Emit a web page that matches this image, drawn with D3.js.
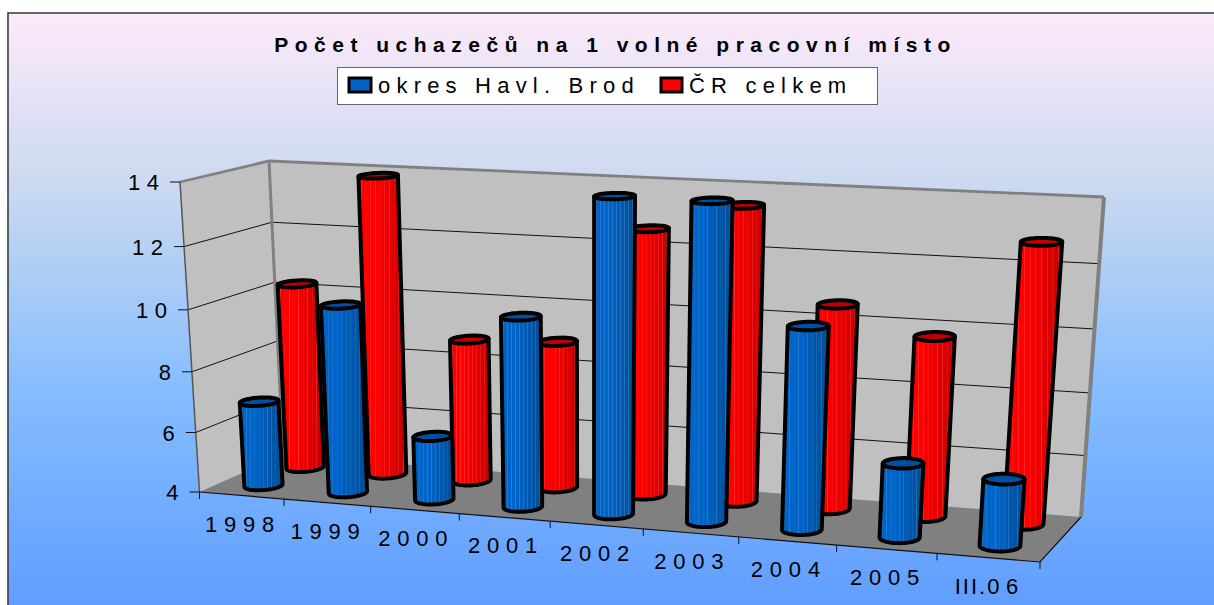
<!DOCTYPE html>
<html><head><meta charset="utf-8">
<script src="https://cdn.jsdelivr.net/npm/d3@7"></script>
<style>html,body{margin:0;padding:0;background:#fff;overflow:hidden}svg{display:block}text{font-family:"Liberation Sans",Arial,sans-serif;fill:#000}</style>
</head><body><script>
const categories=["1998","1999","2000","2001","2002","2003","2004","2005","III.06"];
const seriesNames=["okres Havl. Brod","ČR celkem"];
const blueValues=[6.83,10.17,6.1,10.15,14.0,14.0,10.4,6.36,6.1];
const redValues=[10.25,13.88,8.75,8.86,12.62,13.48,10.58,9.76,12.81];
const valueTicks=[4,6,8,10,12,14];
const titleText="Počet uchazečů na 1 volné pracovní místo";

const W=1214,H=605;
const svg=d3.select("body").append("svg").attr("width",W).attr("height",H);
const defs=svg.append("defs");
const bg=defs.append("linearGradient").attr("id","bg").attr("x1",0).attr("x2",0).attr("y1",0).attr("y2",1);
[[0,"#fdeafa"],[0.3,"#c8d8f0"],[0.62,"#86bdff"],[1,"#5e9cff"]].forEach(d=>bg.append("stop").attr("offset",d[0]).attr("stop-color",d[1]));
function bodyGrad(id,base,dark,line){
  const g=defs.append("linearGradient").attr("id",id);
  const n=9;
  for(let i=0;i<=n;i++){
    const t=i/n, c=d3.interpolateRgb(base,dark)(Math.max(0,(t-0.35)/0.65));
    const o=0.06+t*0.88;
    g.append("stop").attr("offset",o-0.012).attr("stop-color",c);
    g.append("stop").attr("offset",o).attr("stop-color",d3.interpolateRgb(c,line)(0.35));
    g.append("stop").attr("offset",o+0.012).attr("stop-color",c);
  }
}
bodyGrad("gBlue","#0064c8","#004f98","#6fa8dc");
bodyGrad("gRed","#ff0000","#cc0000","#ff7a7a");

svg.append("rect").attr("x",8).attr("y",13).attr("width",W).attr("height",H).attr("fill","url(#bg)").attr("stroke","#404040").attr("stroke-width",1.6);

// projection of the chart box
const A=[199.5,492],B=[1040,562],C=[283,455],D=[1081,517],G=[180,182],Hh=[1062,226],E=[269,161],F=[1104,197];
const lerp=(p,q,t)=>[p[0]+(q[0]-p[0])*t,p[1]+(q[1]-p[1])*t];
const warpT=t=>{const a=0.895;return a*t/(1+(a-1)*t)};
const warpH=h=>{const b=0.95;return b*h/(1+(b-1)*h)};
function P(t,z,h){
  const tw=warpT(t),hw=warpH(h);
  const bot=lerp(lerp(A,B,tw),lerp(C,D,tw),z);
  const top=lerp(lerp(G,Hh,tw),lerp(E,F,tw),z);
  return lerp(bot,top,hw);
}
const xScale=d3.scaleBand().domain(categories).range([0,1]);
const yScale=d3.scaleLinear().domain([4,14]).range([0,1]);
const line=d3.line();
const poly=pts=>line(pts)+"Z";

const plot=svg.append("g");
// walls and floor
plot.append("path").attr("d",poly([P(0,0,0),P(0,1,0),P(0,1,1),P(0,0,1)])).attr("fill","#c0c0c0");
plot.append("path").attr("d",poly([P(0,1,0),P(1,1,0),P(1,1,1),P(0,1,1)])).attr("fill","#c0c0c0");
plot.append("path").attr("d",poly([P(0,0,0),P(1,0,0),P(1,1,0),P(0,1,0)])).attr("fill","#808080");
// gridlines
valueTicks.slice(1,-1).forEach(v=>{
  const h=yScale(v);
  plot.append("path").attr("d",line([P(0,0,h),P(0,1,h),P(1,1,h)])).attr("fill","none").attr("stroke","#111").attr("stroke-width",1);
});
// wall edges
const edge=(pts,w,c)=>plot.append("path").attr("d",line(pts)).attr("fill","none").attr("stroke",c).attr("stroke-width",w);
edge([P(0,0,1),P(0,1,1),P(1,1,1)],2.8,"#808080");
edge([P(1,1,1),P(1,1,0)],4,"#808080");
edge([P(0,1,1),P(0,1,0)],3,"#808080");
edge([P(0,0,1),P(0,0,0)],1.5,"#555");
edge([P(0,0,0),P(1,0,0),P(1,1,0)],1.2,"#111");

// axes
valueTicks.forEach(v=>{
  const p=P(0,0,yScale(v));
  plot.append("line").attr("x1",p[0]-10).attr("x2",p[0]).attr("y1",p[1]).attr("y2",p[1]).attr("stroke","#111").attr("stroke-width",1);
  plot.append("text").attr("x",p[0]-21+6.6).attr("y",p[1]+8).attr("text-anchor","end").attr("font-size",22).attr("letter-spacing",6.6).text(v);
});
categories.concat([null]).forEach((c,i)=>{
  const t=i/categories.length, p=P(t,0,0);
  plot.append("line").attr("x1",p[0]).attr("x2",p[0]).attr("y1",p[1]).attr("y2",p[1]+7).attr("stroke","#111").attr("stroke-width",1);
});
categories.forEach(c=>{
  const t=xScale(c)+xScale.bandwidth()/2, p=P(t,0,0);
  const label=plot.append("text").attr("x",p[0]+1.5).attr("y",p[1]+36).attr("text-anchor","middle").attr("font-size",22);
  const m=c.match(/^([^.]*\.)(.*)$/);
  if(m){
    label.append("tspan").attr("letter-spacing",2).text(m[1]);
    label.append("tspan").attr("letter-spacing",6.5).text(m[2]);
  } else label.attr("letter-spacing",6.8).text(c);
});

// cylinders
const RT=0.0215,RZ=0.125;
function ring(t,z,h){return d3.range(0,360,6).map(a=>{const r=a*Math.PI/180;return P(t+RT*Math.cos(r),z+RZ*Math.sin(r),h)})}
function cylinder(cat,val,z,grad,topFill,dt){
  const t=xScale(cat)+xScale.bandwidth()/2+dt,h=yScale(val);
  const b=ring(t,z,0),u=ring(t,z,h);
  const lo=d3.least(b,d=>d[0]),ro=d3.greatest(b,d=>d[0]);
  const lu=d3.least(u,d=>d[0]),ru=d3.greatest(u,d=>d[0]);
  const front=b.filter(p=>{const s=(ro[1]-lo[1])/(ro[0]-lo[0]);return p[1]>=lo[1]+s*(p[0]-lo[0])}).sort((p,q)=>q[0]-p[0]);
  const g=plot.append("g").attr("stroke","#000").attr("stroke-width",4).attr("stroke-linejoin","round");
  g.append("path").attr("d",line([lu,ru,ro,...front,lo])+"Z").attr("fill",`url(#${grad})`);
  g.append("path").attr("d",poly(u)).attr("fill",topFill);
}
const depthRed=0.76,depthBlue=0.27;
categories.forEach((c,i)=>cylinder(c,redValues[i],depthRed,"gRed","#c00000",0.0025));
categories.forEach((c,i)=>cylinder(c,blueValues[i],depthBlue,"gBlue","#00509f",0));

// title and legend
svg.append("text").attr("x",615.5).attr("y",52).attr("text-anchor","middle").attr("font-size",21).attr("font-weight","bold").attr("letter-spacing",6.5).text(titleText);
const leg=svg.append("g");
leg.append("rect").attr("x",337.5).attr("y",67.5).attr("width",540).attr("height",37).attr("fill","#fff").attr("stroke","#666").attr("stroke-width",1);
leg.append("rect").attr("x",349).attr("y",78).attr("width",22).attr("height",14).attr("fill","#0062c4").attr("stroke","#000").attr("stroke-width",3);
leg.append("text").attr("x",378).attr("y",93).attr("font-size",22).attr("letter-spacing",6.2).text(seriesNames[0]);
leg.append("rect").attr("x",661).attr("y",78).attr("width",21).attr("height",14).attr("fill","#ff0000").attr("stroke","#000").attr("stroke-width",3);
leg.append("text").attr("x",689).attr("y",93).attr("font-size",22).attr("letter-spacing",6.2).text(seriesNames[1]);
</script></body></html>
